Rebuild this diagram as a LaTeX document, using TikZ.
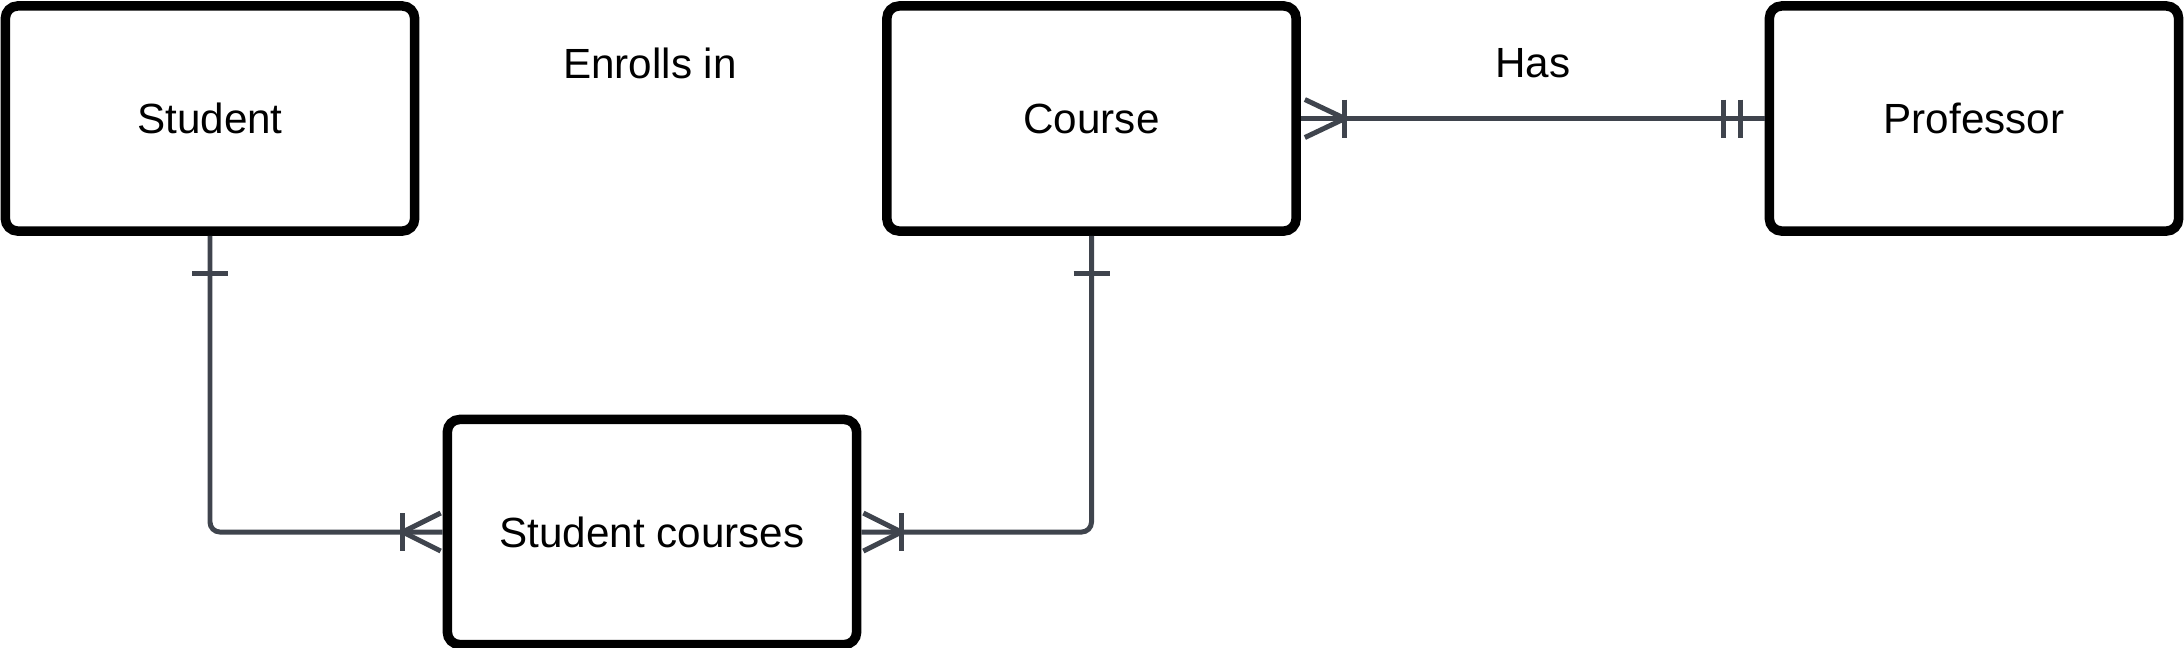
\documentclass[tikz,border=0pt]{standalone}
\usepackage{fontspec}
\setmainfont{Liberation Sans}
\usetikzlibrary{calc}
\definecolor{linkGray}{RGB}{63,68,77}
\begin{document}
\begin{tikzpicture}[x=0.01cm, y=-0.01cm, entityStyle/.style={rectangle, draw=black, fill=white, line width=2.7pt, rounded corners=3.5pt, minimum width=4.09cm, minimum height=2.25cm, font=\fontsize{12}{14}\selectfont}, linkStyle/.style={draw=linkGray, line width=1.42pt, rounded corners=2.8pt}, markStyle/.style={draw=linkGray, line width=1.42pt}, labelStyle/.style={font=\fontsize{12}{14}\selectfont}]
                    \useasboundingbox (0,0) rectangle (2184,647);

                    \node[entityStyle] (student)  at ( 210, 118.5) {Student};
                    \node[entityStyle] (course)   at (1091.5, 118.5) {Course};
                    \node[entityStyle] (prof)     at (1974, 118.5) {Professor};
                    \node[entityStyle] (stud_crs) at ( 652, 532) {Student courses};

                    \node[labelStyle] (enroll_lbl) at ( 650, 63) {Enrolls in};
                    \node[labelStyle] (has_lbl)    at (1533, 63) {Has};

                    \draw[linkStyle] (student.south) |- (stud_crs.west);
                    \draw[linkStyle] (course.south)  |- (stud_crs.east);
                    \draw[linkStyle] (course.east)   -- (prof.west);

                    % one side
                    \draw[markStyle] ($(student.south) + (-18, 38)$) -- ++(36, 0);
                    \draw[markStyle] ($(course.south)  + (-18, 38)$) -- ++(36, 0);
                    \draw[markStyle] ($(prof.west) + (-41, -19)$) -- ++(0, 38);
                    \draw[markStyle] ($(prof.west) + (-24, -19)$) -- ++(0, 38);

                    % many side
                    \draw[markStyle] ($(stud_crs.west) + (-40, -19)$) -- ++(0, 38);
                    \draw[markStyle] ($(stud_crs.west) + (-2, -19)$) -- ($(stud_crs.west) + (-40, 0)$) -- ($(stud_crs.west) + (-2, 19)$);
                    \draw[markStyle] ($(stud_crs.east) + (40, -19)$) -- ++(0, 38);
                    \draw[markStyle] ($(stud_crs.east) + (2, -19)$) -- ($(stud_crs.east) + (40, 0)$) -- ($(stud_crs.east) + (2, 19)$);
                    \draw[markStyle] ($(course.east) + (44, -19)$) -- ++(0, 38);
                    \draw[markStyle] ($(course.east) + (4, -19)$) -- ($(course.east) + (44, 0)$) -- ($(course.east) + (4, 19)$);
                \end{tikzpicture}
\end{document}
